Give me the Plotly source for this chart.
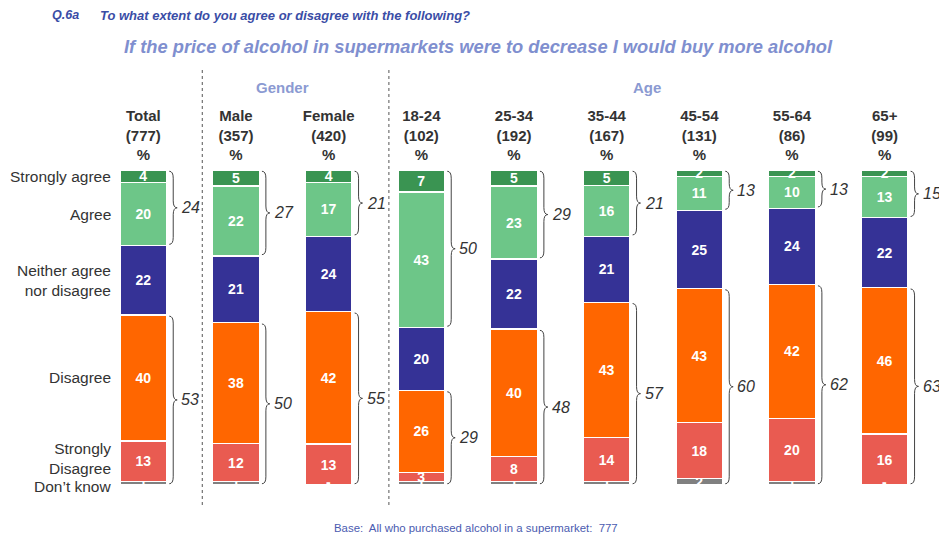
import plotly.graph_objects as go

groups = ["Total", "Male", "Female", "18-24", "25-34", "35-44", "45-54", "55-64", "65+"]
bases = [777, 357, 420, 102, 192, 167, 131, 86, 99]

strongly_agree = [4, 5, 4, 7, 5, 5, 2, 2, 2]
agree = [20, 22, 17, 43, 23, 16, 11, 10, 13]
neither = [22, 21, 24, 20, 22, 21, 25, 24, 22]
disagree = [40, 38, 42, 26, 40, 43, 43, 42, 46]
strongly_disagree = [13, 12, 13, 3, 8, 14, 18, 20, 16]
dont_know = [1, 1, 0, 1, 1, 1, 2, 1, 0]
net_agree = [24, 27, 21, 50, 29, 21, 13, 13, 15]
net_disagree = [53, 50, 55, 29, 48, 57, 60, 62, 63]

FONT = "Liberation Sans, Arial, sans-serif"
DARK = "#333333"

series = [
    ("Don’t know", dont_know, "#808080"),
    ("Strongly<br>Disagree", strongly_disagree, "#E95B51"),
    ("Disagree", disagree, "#FF6600"),
    ("Neither agree<br>nor disagree", neither, "#353296"),
    ("Agree", agree, "#6DC688"),
    ("Strongly agree", strongly_agree, "#3A9452"),
]

fig = go.Figure()
for name, vals, col in series:
    fig.add_trace(go.Bar(
        x=groups, y=vals, name=name,
        marker=dict(color=col, line=dict(color="white", width=1.2)),
        text=[str(v) if v else "" for v in vals],
        texttemplate="%{text}",
        textposition="inside", insidetextanchor="middle",
        constraintext="none", textangle=0,
        insidetextfont=dict(color="white", size=14, family=FONT, weight="bold"),
        hoverinfo="skip",
    ))

totals = [sum(s[1][i] for s in series) for i in range(len(groups))]

def norm(v, i):
    return 100.0 * v / totals[i]

shapes = []
annotations = []

def brace(x0, w, y0, y1, r):
    xm = x0 + w / 2
    x2 = x0 + w
    ym = (y0 + y1) / 2
    r = min(r, (y1 - y0) / 4)
    return (f"M {x0},{y1} Q {xm},{y1} {xm},{y1 - r} L {xm},{ym + r} "
            f"Q {xm},{ym} {x2},{ym} Q {xm},{ym} {xm},{ym - r} "
            f"L {xm},{y0 + r} Q {xm},{y0} {x0},{y0}")

for i in range(len(groups)):
    bottom_top = norm(dont_know[i] + strongly_disagree[i] + disagree[i], i)
    agree_bottom = 100 - norm(strongly_agree[i] + agree[i], i)
    shapes.append(dict(type="path", xref="x", yref="y",
                       path=brace(i + 0.28, 0.085, agree_bottom + 0.4, 99.6, 2.2),
                       line=dict(color="#444444", width=1)))
    annotations.append(dict(x=i + 0.39, y=(agree_bottom + 100) / 2, xref="x", yref="y",
                            text=str(net_agree[i]), showarrow=False, xanchor="left",
                            yanchor="middle",
                            font=dict(family=FONT, size=16, color=DARK, style="italic")))
    shapes.append(dict(type="path", xref="x", yref="y",
                       path=brace(i + 0.28, 0.085, 0.4, bottom_top - 0.4, 2.2),
                       line=dict(color="#444444", width=1)))
    annotations.append(dict(x=i + 0.39, y=bottom_top / 2, xref="x", yref="y",
                            text=str(net_disagree[i]), showarrow=False, xanchor="left",
                            yanchor="middle",
                            font=dict(family=FONT, size=16, color=DARK, style="italic")))
    cum = 0
    for name, vals, col in series:
        if vals[i] == 0:
            annotations.append(dict(x=i, y=norm(cum, i), xref="x", yref="y", text="-",
                                    showarrow=False, yshift=3, yanchor="middle",
                                    font=dict(family=FONT, size=14, color="white", weight="bold")))
        cum += vals[i]

cum = 0
shifts = {"Don’t know": -3, "Strongly<br>Disagree": 3}
for name, vals, col in series:
    c = norm(cum + vals[0] / 2, 0)
    annotations.append(dict(x=0.0195, y=c, xref="paper", yref="y", text=name,
                            showarrow=False, xanchor="right", yanchor="middle", align="right",
                            yshift=shifts.get(name, 0),
                            font=dict(family=FONT, size=15.5, color=DARK)))
    cum += vals[0]

for xv in [0.636, 2.65]:
    shapes.append(dict(type="line", xref="x", yref="paper", x0=xv, x1=xv,
                       y0=-0.0635, y1=1.324,
                       line=dict(color="#555555", width=1, dash="3px,3px")))

def py(p):
    return (485 - p) / 315.0

def px(p):
    return (p - 97) / 834.0

GROUPCOL = "#8B9AD2"
TOPBLUE = "#3A4DA6"
annotations += [
    dict(x=1.5, y=py(87), xref="x", yref="paper", text="Gender", showarrow=False,
         yanchor="middle", font=dict(family=FONT, size=15, color=GROUPCOL, weight="bold")),
    dict(x=5.43, y=py(87), xref="x", yref="paper", text="Age", showarrow=False,
         yanchor="middle", font=dict(family=FONT, size=15, color=GROUPCOL, weight="bold")),
    dict(x=px(478), y=py(46), xref="paper", yref="paper",
         text="If the price of alcohol in supermarkets were to decrease I would buy more alcohol",
         showarrow=False, xanchor="center", yanchor="middle",
         font=dict(family=FONT, size=18.3, color="#7F8FCF", weight="bold", style="italic")),
    dict(x=px(50), y=py(15), xref="paper", yref="paper", text="Q.6a", showarrow=False,
         xanchor="left", yanchor="middle",
         font=dict(family=FONT, size=12.5, color=TOPBLUE, weight="bold", style="italic")),
    dict(x=px(98), y=py(15), xref="paper", yref="paper",
         text="To what extent do you agree or disagree with the following?", showarrow=False,
         xanchor="left", yanchor="middle",
         font=dict(family=FONT, size=13, color=TOPBLUE, weight="bold", style="italic")),
    dict(x=px(476), y=py(528), xref="paper", yref="paper",
         text="Base:  All who purchased alcohol in a supermarket:  777", showarrow=False,
         xanchor="center", yanchor="middle", font=dict(family=FONT, size=11.4, color="#4A5BB0")),
]

ticktext = [f"{g}<br>({b})<br>%" for g, b in zip(groups, bases)]

# page body has an 8px margin, so the figure is drawn 8px in from the window edge
fig.update_layout(
    barmode="stack", barnorm="percent", bargap=0.5,
    width=939, height=530,
    margin=dict(l=89, r=16, t=162, b=53),
    paper_bgcolor="white", plot_bgcolor="white",
    showlegend=False,
    shapes=shapes, annotations=annotations,
    xaxis=dict(type="category", range=[-0.5, 8.5], side="top", showgrid=False,
               zeroline=False, showline=False, ticks="", tickvals=groups, ticktext=ticktext,
               tickfont=dict(family=FONT, size=15, color=DARK, weight="bold"),
               ticklabelstandoff=6, fixedrange=True),
    yaxis=dict(range=[0, 100], visible=False, fixedrange=True),
)

fig.write_html("out.html")
